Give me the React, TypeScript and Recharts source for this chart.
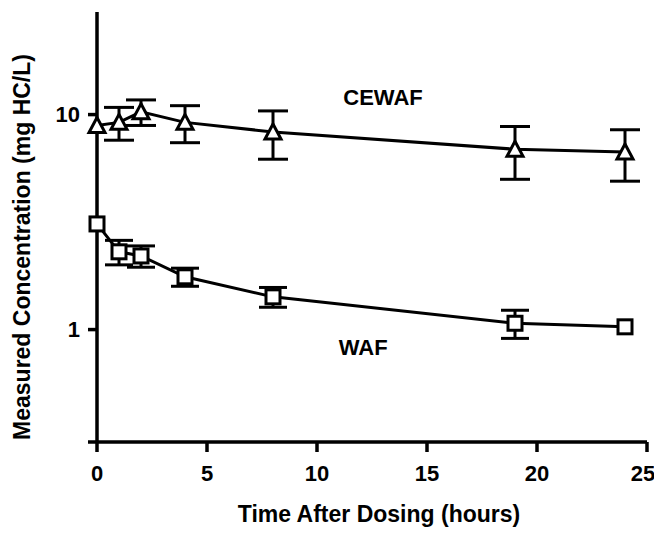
import { LineChart, Line, XAxis, YAxis, ErrorBar, ReferenceDot, Label } from 'recharts';

document.body.style.margin = '0';

const hours = [0, 1, 2, 4, 8, 19, 24];
const cewafMean = [8.9, 9.2, 10.3, 9.2, 8.3, 6.9, 6.7];
const cewafSd = [null, 1.6, 1.4, 1.8, 2.1, 1.9, 1.8];
const wafMean = [3.1, 2.3, 2.2, 1.76, 1.42, 1.07, 1.03];
const wafSd = [null, 0.3, 0.25, 0.17, 0.15, 0.16, null];

const xTicks = [0, 5, 10, 15, 20, 25];
const yTicks = [0.3, 1, 10];

const annotations = [
  { text: 'CEWAF', x: 13, y: 12.0 },
  { text: 'WAF', x: 12.1, y: 0.83 },
];

const data = hours.map((h, i) => ({
  h,
  cewaf: cewafMean[i],
  cewafErr: cewafSd[i],
  waf: wafMean[i],
  wafErr: wafSd[i],
}));

const font = '"Liberation Sans", Arial, sans-serif';
const tickStyle = { fill: '#000', fontSize: 22, fontWeight: 700, fontFamily: font };
const axisLine = { stroke: '#000', strokeWidth: 3.5 };

const Triangle = (props: any) => {
  const { cx, cy, index } = props;
  if (cx == null || cy == null) return <g key={`t-${index}`} />;
  return (
    <path
      key={`t-${index}`}
      d={`M${cx},${cy - 8} L${cx + 8},${cy + 7} L${cx - 8},${cy + 7} Z`}
      fill="#fff"
      stroke="#000"
      strokeWidth={3}
    />
  );
};

const Square = (props: any) => {
  const { cx, cy, index } = props;
  if (cx == null || cy == null) return <g key={`s-${index}`} />;
  return (
    <rect key={`s-${index}`} x={cx - 7} y={cy - 7} width={14} height={14} fill="#fff" stroke="#000" strokeWidth={3} />
  );
};

export default function App() {
  return (
    <LineChart width={654} height={533} data={data} margin={{ top: 12, right: 7, bottom: 0, left: 0 }}>
      <XAxis
        dataKey="h"
        type="number"
        domain={[0, 25]}
        ticks={xTicks}
        height={91}
        stroke="#000"
        strokeWidth={3.5}
        axisLine={axisLine}
        tickLine={axisLine}
        tickSize={10}
        tickMargin={13}
        tick={tickStyle}
      >
        <Label
          content={() => (
            <text x={379} y={522} textAnchor="middle" fontSize={23} fontWeight={700} fontFamily={font} fill="#000">
              Time After Dosing (hours)
            </text>
          )}
        />
      </XAxis>
      <YAxis
        type="number"
        scale="log"
        domain={[0.3, 30]}
        allowDataOverflow
        ticks={yTicks}
        width={97}
        stroke="#000"
        strokeWidth={3.5}
        axisLine={axisLine}
        tickLine={axisLine}
        tickSize={9}
        tickMargin={8}
        tick={tickStyle}
        tickFormatter={(v: number) => (v === 1 || v === 10 ? String(v) : '')}
      >
        <Label
          content={() => (
            <text
              x={22}
              y={247}
              dy="0.36em"
              transform="rotate(-90, 22, 247)"
              textAnchor="middle"
              fontSize={23}
              fontWeight={700}
              fontFamily={font}
              fill="#000"
            >
              Measured Concentration (mg HC/L)
            </text>
          )}
        />
      </YAxis>
      <Line
        dataKey="cewaf"
        type="linear"
        stroke="#000"
        strokeWidth={3}
        dot={Triangle}
        activeDot={false}
        isAnimationActive={false}
      >
        <ErrorBar dataKey="cewafErr" direction="y" width={15} stroke="#000" strokeWidth={3} />
      </Line>
      <Line
        dataKey="waf"
        type="linear"
        stroke="#000"
        strokeWidth={3}
        dot={Square}
        activeDot={false}
        isAnimationActive={false}
      >
        <ErrorBar dataKey="wafErr" direction="y" width={14} stroke="#000" strokeWidth={3} />
      </Line>
      {annotations.map((a) => (
        <ReferenceDot key={a.text} x={a.x} y={a.y} r={1} fill="none" stroke="none">
          <Label
            value={a.text}
            position="center"
            fill="#000"
            fontSize={22}
            fontWeight={700}
            fontFamily={font}
          />
        </ReferenceDot>
      ))}
    </LineChart>
  );
}
